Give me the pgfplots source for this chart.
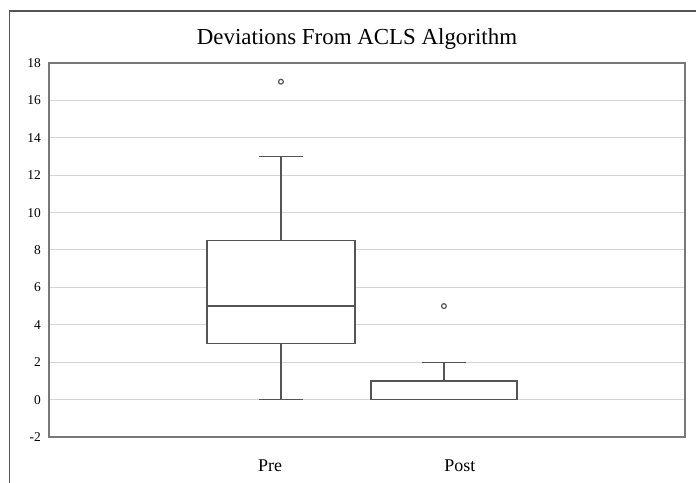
\documentclass[border=0pt]{standalone}
\usepackage{fontspec}
\setmainfont{Liberation Serif}
\usepackage{pgfplots}
\pgfplotsset{compat=1.18}
\usepgfplotslibrary{statistics}
\definecolor{boxline}{RGB}{85,85,85}
\definecolor{frameline}{RGB}{120,120,120}
\definecolor{gridline}{RGB}{212,212,212}

\begin{document}
\begin{tikzpicture}
\useasboundingbox (0,0) rectangle (696bp,483bp);
% outer chart frame (only left and top edges fall inside the picture)
\draw[boxline, line width=1.5bp] (9.5bp,-5bp) -- (9.5bp,472bp) -- (705bp,472bp);
\begin{axis}[
  at={(49bp,46bp)}, anchor=south west,
  scale only axis, width=636bp, height=374bp,
  xmin=-0.423, xmax=3.479, ymin=-2, ymax=18,
  xtick={0.933,2.098}, xticklabels={Pre,Post},
  ytick={-2,0,...,18}, yticklabels={-2,0,2,4,6,8,10,12,14,16,18},
  major tick length=0,
  ymajorgrids, grid style={gridline, line width=1bp},
  axis line style={frameline, line width=1.5bp},
  yticklabel style={font=\fontsize{13.5}{15}\selectfont, inner sep=0pt, xshift=-8bp},
  xticklabel style={font=\fontsize{18}{20}\selectfont, anchor=base, inner sep=0pt, yshift=-34bp},
  clip=false,
  boxplot/draw direction=y,
]
% Pre
\addplot[boxplot prepared={median=5, lower quartile=3, upper quartile=8.5,
    lower whisker=0, upper whisker=13, draw position=1,
    box extend=0.908, whisker extend=0.27},
  draw=boxline, fill=white, line width=1.3bp, mark=o, mark size=2.4bp,
  mark options={draw=boxline, fill=none, line width=1.2bp}]
  table[row sep=\\, y index=0] {17\\};
% Post
\addplot[boxplot prepared={median=0, lower quartile=0, upper quartile=1,
    lower whisker=0, upper whisker=2, draw position=2,
    box extend=0.895, whisker extend=0.27},
  draw=boxline, fill=white, line width=1.3bp, mark=o, mark size=2.4bp,
  mark options={draw=boxline, fill=none, line width=1.2bp}]
  table[row sep=\\, y index=0] {5\\};
\end{axis}
\node[font=\fontsize{23}{27}\selectfont, anchor=base, inner sep=0pt] at (357bp,438bp) {Deviations From ACLS Algorithm};
\end{tikzpicture}
\end{document}
